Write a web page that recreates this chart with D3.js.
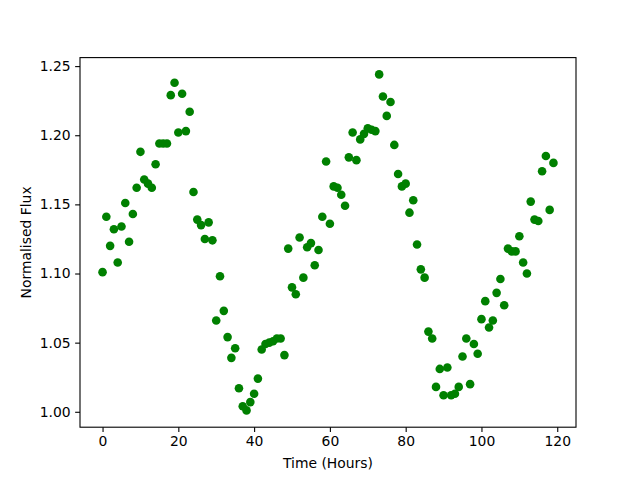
<!DOCTYPE html>
<html>
<head>
<meta charset="utf-8">
<script src="https://cdn.jsdelivr.net/npm/d3@7"></script>
<style>
  body { margin: 0; background: #fff; }
  svg text { font-family: "DejaVu Sans", sans-serif; }
</style>
</head>
<body>
<svg id="chart" width="640" height="480"></svg>
<script>
// time in hours
var hours = [0,1,2,3,4,5,6,7,8,9,10,11,12,13,14,15,16,17,18,19,
  20,21,22,23,24,25,26,27,28,29,30,31,32,33,34,35,36,37,38,39,
  40,41,42,43,44,45,46,47,48,49,50,51,52,53,54,55,56,57,58,59,
  60,61,62,63,64,65,66,67,68,69,70,71,72,73,74,75,76,77,78,79,
  80,81,82,83,84,85,86,87,88,89,90,91,92,93,94,95,96,97,98,99,
  100,101,102,103,104,105,106,107,108,109,110,111,112,113,114,115,116,117,118,119]

// normalised flux
var flux = [1.101,1.141,1.120,1.132,1.108,1.134,1.151,1.123,1.143,1.162,
  1.188,1.168,1.165,1.162,1.179,1.194,1.194,1.194,1.229,1.238,
  1.202,1.230,1.203,1.217,1.159,1.139,1.135,1.125,1.137,1.124,
  1.066,1.098,1.073,1.054,1.039,1.046,1.017,1.004,1.001,1.007,
  1.013,1.024,1.045,1.049,1.050,1.051,1.053,1.053,1.041,1.118,
  1.090,1.085,1.126,1.097,1.119,1.122,1.106,1.117,1.141,1.181,
  1.136,1.163,1.162,1.157,1.149,1.184,1.202,1.182,1.197,1.201,
  1.205,1.204,1.203,1.244,1.228,1.214,1.224,1.193,1.172,1.163,
  1.165,1.144,1.153,1.121,1.103,1.097,1.058,1.053,1.018,1.031,
  1.012,1.032,1.012,1.013,1.018,1.040,1.053,1.020,1.049,1.042,
  1.067,1.080,1.061,1.066,1.086,1.096,1.077,1.118,1.116,1.116,
  1.127,1.108,1.100,1.152,1.139,1.138,1.174,1.185,1.146,1.180]

var xTicks = [0,20,40,60,80,100,120]
var yTicks = [1.00,1.05,1.10,1.15,1.20,1.25]

var pts = hours.map((h, i) => ({ t: h, f: flux[i] }))

var svg = d3.select("#chart")
var axLeft = 80, axRight = 576, axTop = 57.6, axBottom = 427.2
var tick = 4.86, fs = "13.9px"

// matplotlib style 5% margins
var xe = d3.extent(hours), xm = (xe[1] - xe[0]) * 0.05
var ye = d3.extent(flux), ym = (ye[1] - ye[0]) * 0.05
var x = d3.scaleLinear().domain([xe[0] - xm, xe[1] + xm]).range([axLeft, axRight])
var y = d3.scaleLinear().domain([ye[0] - ym, ye[1] + ym]).range([axBottom, axTop])

svg.append("rect").attr("width", 640).attr("height", 480).attr("fill", "white")

svg.append("g")
  .selectAll("circle")
  .data(pts)
  .enter().append("circle")
  .attr("cx", d => x(d.t))
  .attr("cy", d => y(d.f))
  .attr("r", 4.3)
  .attr("fill", "#008000")

//////// axes
var xAxis = svg.append("g")
  .attr("transform", "translate(0," + axBottom + ")")
  .call(d3.axisBottom(x).tickValues(xTicks).tickSize(tick).tickPadding(4.5).tickFormat(d3.format("d")))
var yAxis = svg.append("g")
  .attr("transform", "translate(" + axLeft + ",0)")
  .call(d3.axisLeft(y).tickValues(yTicks).tickSize(tick).tickPadding(4.5).tickFormat(d3.format(".2f")))

;[xAxis, yAxis].forEach(g => {
  g.select(".domain").remove()
  g.selectAll("line").attr("stroke", "black").attr("stroke-width", 1.1)
  g.selectAll("text").style("font-size", fs).attr("fill", "black")
})

// frame
svg.append("rect")
  .attr("x", axLeft).attr("y", axTop)
  .attr("width", axRight - axLeft).attr("height", axBottom - axTop)
  .attr("fill", "none").attr("stroke", "black").attr("stroke-width", 1.1)

svg.append("text")
  .attr("x", (axLeft + axRight) / 2).attr("y", 468)
  .attr("text-anchor", "middle")
  .style("font-size", fs)
  .text("Time (Hours)")

svg.append("text")
  .attr("transform", "translate(31," + (axTop + axBottom) / 2 + ") rotate(-90)")
  .attr("text-anchor", "middle")
  .style("font-size", fs)
  .text("Normalised Flux")
</script>
</body>
</html>
